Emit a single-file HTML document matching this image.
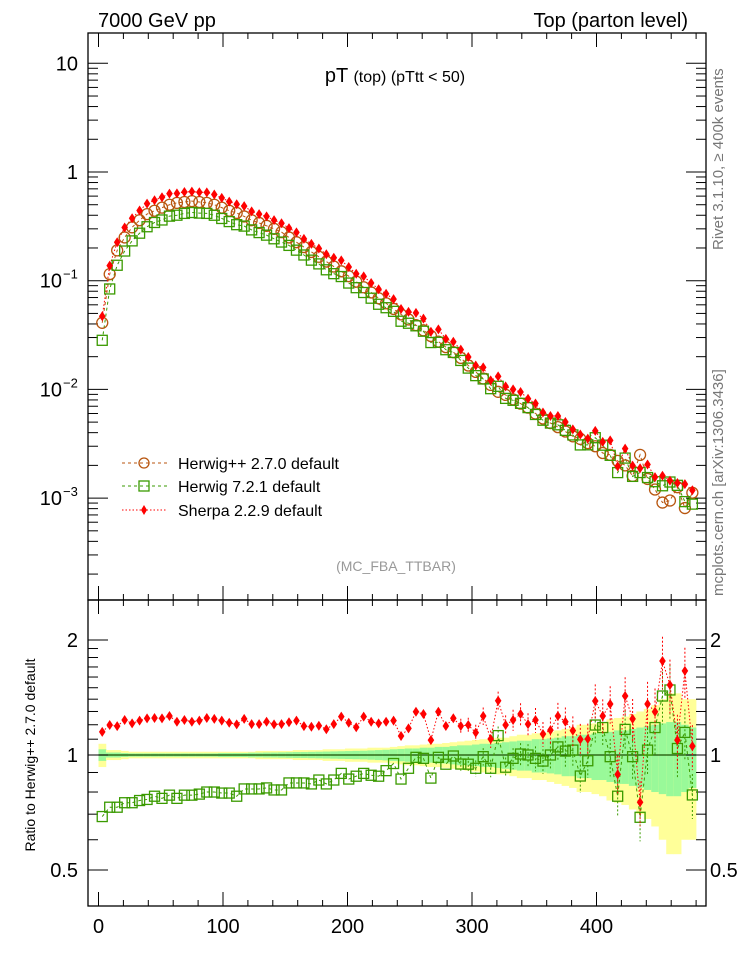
<!DOCTYPE html>
<html><head><meta charset="utf-8">
<style>
html,body{margin:0;padding:0;background:#fff;}
svg{display:block;font-family:"Liberation Sans",sans-serif;}
</style></head>
<body>
<svg id="chart" width="746" height="972" viewBox="0 0 746 972" xmlns="http://www.w3.org/2000/svg">
<g id="bands"></g>
<g id="axes"></g>
<g id="series"></g>
<text x="98" y="27" font-size="20">7000 GeV pp</text>
<text x="688" y="27" font-size="20" text-anchor="end">Top (parton level)</text>
<text x="395" y="82" text-anchor="middle"><tspan font-size="20">pT </tspan><tspan font-size="16">(top) (pTtt &lt; 50)</tspan></text>
<text x="396" y="571" text-anchor="middle" font-size="14" fill="#999">(MC_FBA_TTBAR)</text>
<text transform="translate(723,250) rotate(-90)" font-size="15" fill="#777">Rivet 3.1.10, ≥ 400k events</text>
<text transform="translate(723,596) rotate(-90)" font-size="15" fill="#777">mcplots.cern.ch [arXiv:1306.3436]</text>
<text transform="translate(35,755) rotate(-90)" font-size="14" text-anchor="middle">Ratio to Herwig++ 2.7.0 default</text>
<g>
<g>
<line x1="122" y1="463" x2="167" y2="463" stroke="#b8560f" stroke-dasharray="3,3"/>
<circle cx="144" cy="463" r="5" fill="none" stroke="#b8560f" stroke-width="1.3"/>
<text x="178" y="469" font-size="16">Herwig++ 2.7.0 default</text></g>
<g>
<line x1="122" y1="486" x2="167" y2="486" stroke="#3a9a00" stroke-dasharray="3,3"/>
<rect x="139" y="481" width="10" height="10" fill="none" stroke="#3a9a00" stroke-width="1.3"/>
<text x="178" y="492" font-size="16">Herwig 7.2.1 default</text></g>
<g>
<line x1="122" y1="510" x2="167" y2="510" stroke="#f00" stroke-dasharray="1.5,2"/>
<path d="M144,505 L147,510 L144,515 L141,510 Z" fill="#f00"/>
<text x="178" y="516" font-size="16">Sherpa 2.2.9 default</text></g>
</g>
</svg>
<script>
const binCenters=[];for(let i=0;i<80;i++)binCenters.push(3+6*i);
const herwigpp=[0.041,0.115,0.19,0.25,0.31,0.36,0.41,0.44,0.47,0.50,0.52,0.53,0.54,0.53,0.52,0.50,0.47,0.44,0.42,0.39,0.36,0.34,0.32,0.30,0.28,0.25,0.226,0.204,0.184,0.166,0.150,0.135,0.122,0.110,0.098,0.087,0.078,0.069,0.062,0.055,0.049,0.044,0.039,0.035,0.031,0.0275,0.0245,0.022,0.0195,0.0166,0.0145,0.0126,0.011,0.0095,0.0089,0.0081,0.0074,0.0068,0.006,0.0054,0.0049,0.0045,0.0041,0.0037,0.0035,0.0032,0.003,0.0026,0.0025,0.0022,0.002,0.0016,0.0025,0.0015,0.0012,0.00091,0.00095,0.00126,0.00081,0.00112];
const ratioHerwig7=[0.69,0.73,0.73,0.75,0.75,0.76,0.765,0.78,0.77,0.785,0.77,0.785,0.785,0.79,0.80,0.80,0.795,0.795,0.78,0.815,0.815,0.815,0.82,0.81,0.81,0.845,0.845,0.845,0.84,0.86,0.84,0.86,0.895,0.865,0.88,0.895,0.885,0.88,0.91,0.95,0.865,0.923,0.986,0.98,0.87,0.986,0.946,0.994,0.947,0.946,0.923,0.99,0.923,1.124,0.929,0.98,1.006,1.0,0.98,0.964,1.0,1.05,1.024,1.03,0.881,0.966,1.198,1.18,0.99,0.78,1.167,0.99,0.687,1.03,1.18,1.427,1.48,1.04,1.146,0.786];
const ratioSherpa=[1.15,1.198,1.19,1.235,1.21,1.23,1.247,1.25,1.247,1.265,1.222,1.235,1.222,1.23,1.25,1.243,1.23,1.215,1.203,1.243,1.205,1.205,1.222,1.203,1.205,1.218,1.23,1.19,1.186,1.193,1.168,1.205,1.26,1.215,1.182,1.26,1.222,1.21,1.222,1.23,1.121,1.174,1.298,1.28,1.094,1.298,1.191,1.248,1.191,1.198,1.144,1.265,1.101,1.387,1.198,1.235,1.28,1.205,1.235,1.135,1.162,1.265,1.222,1.158,1.099,1.101,1.385,1.265,1.36,0.89,1.427,1.243,0.752,1.36,1.298,1.762,1.525,1.094,1.66,1.055];
const errYellow=[0.07,0.03,0.03,0.025,0.02,0.02,0.02,0.02,0.02,0.02,0.02,0.02,0.02,0.02,0.02,0.02,0.02,0.02,0.02,0.02,0.02,0.025,0.025,0.025,0.025,0.025,0.03,0.03,0.03,0.03,0.035,0.035,0.035,0.04,0.04,0.04,0.045,0.045,0.045,0.05,0.055,0.06,0.06,0.065,0.07,0.07,0.075,0.08,0.085,0.09,0.095,0.1,0.1,0.11,0.11,0.12,0.13,0.13,0.14,0.14,0.15,0.16,0.17,0.18,0.2,0.2,0.21,0.22,0.24,0.25,0.26,0.28,0.3,0.32,0.35,0.4,0.45,0.45,0.4,0.4];
const errGreen=[0.035,0.015,0.015,0.012,0.01,0.01,0.01,0.01,0.01,0.01,0.01,0.01,0.01,0.01,0.01,0.01,0.012,0.012,0.012,0.012,0.014,0.014,0.015,0.015,0.016,0.017,0.018,0.018,0.019,0.02,0.021,0.022,0.023,0.024,0.025,0.026,0.028,0.03,0.032,0.035,0.037,0.04,0.04,0.045,0.045,0.05,0.05,0.055,0.06,0.06,0.065,0.07,0.07,0.075,0.08,0.085,0.09,0.09,0.1,0.1,0.105,0.11,0.12,0.12,0.13,0.13,0.14,0.14,0.15,0.16,0.16,0.17,0.18,0.19,0.2,0.21,0.22,0.22,0.2,0.18];
const xTicks=[0,100,200,300,400];
const mainTickLabels=["10","1","10","10","10"];
const mainTickExps=["","","−1","−2","−3"];
const mainTickValues=[10,1,0.1,0.01,0.001];
const ratioTickValues=[2,1,0.5];
const ratioTickLabels=["2","1","0.5"];

const NS="http://www.w3.org/2000/svg";
const L=88,R=706,T=33,MB=600,RB=906;
const X0=98.5,XS=1.245;
const xs=v=>X0+XS*v;
const ys=v=>172-108.7*Math.log10(v);
const yr=v=>755-382*Math.log10(v);
function mk(tag,attrs,parent){const e=document.createElementNS(NS,tag);for(const k in attrs)e.setAttribute(k,attrs[k]);parent.appendChild(e);return e;}
const axes=document.getElementById('axes'),series=document.getElementById('series'),bands=document.getElementById('bands');

for(let i=0;i<binCenters.length;i++){
  const xa=xs(binCenters[i]-3),xb=xs(binCenters[i]+3);
  const ry=mk('rect',{x:xa,y:yr(1+errYellow[i]),width:xb-xa+0.3,height:yr(Math.max(1-errYellow[i],0.3))-yr(1+errYellow[i]),fill:'#ffff99'},bands);
  
  
  const rg=mk('rect',{x:xa,y:yr(1+errGreen[i]),width:xb-xa+0.3,height:yr(1-errGreen[i])-yr(1+errGreen[i]),fill:'#99f999'},bands);
  
  
}
const ref=mk('line',{x1:xs(0),x2:xs(480),y1:yr(1),y2:yr(1),stroke:'#1c4f00','stroke-width':1.3},bands);



const f1=mk('rect',{x:L,y:T,width:R-L,height:MB-T,fill:'none',stroke:'#000','stroke-width':1.3},axes);


const f2=mk('rect',{x:L,y:MB,width:R-L,height:RB-MB,fill:'none',stroke:'#000','stroke-width':1.3},axes);



for(let v=0;v<=480;v+=20){
  const x=xs(v),maj=v%100===0;
  [[T,1],[MB,-1],[MB,1],[RB,-1]].forEach(([y0,d])=>{
    const t=mk('line',{x1:x,x2:x,y1:y0,y2:y0+d*(maj?14:6),stroke:'#000'},axes);
    
    
  });
}
xTicks.forEach(v=>{
  const t=mk('text',{x:xs(v),y:RB+27,'font-size':20,'text-anchor':'middle'},axes);t.textContent=String(v);
  
  
});
for(let e=-4;e<=1;e++){for(let m=1;m<10;m++){
  const v=m*Math.pow(10,e),y=ys(v);if(y<T||y>MB)continue;
  const len=m===1?20:10;
  [[L,1],[R,-1]].forEach(([x0,d])=>{
    const t=mk('line',{x1:x0,x2:x0+d*len,y1:y,y2:y,stroke:'#000'},axes);
    
    
  });
}}
mainTickValues.forEach((v,i)=>{
  const t=mk('text',{x:mainTickExps[i]?62:78,y:ys(v)+7,'font-size':20,'text-anchor':'end'},axes);
  t.textContent=mainTickLabels[i];
  
  
  if(mainTickExps[i]){const s=mk('text',{x:63,y:ys(v)-2,'font-size':13},axes);s.textContent=mainTickExps[i];
    
    }
});
[0.5,0.6,0.7,0.8,0.9,1,1.1,1.2,1.3,1.4,1.5,1.6,1.7,1.8,1.9,2].forEach(v=>{
  const y=yr(v),maj=ratioTickValues.includes(v);
  [[L,1],[R,-1]].forEach(([x0,d])=>{
    const t=mk('line',{x1:x0,x2:x0+d*(maj?20:10),y1:y,y2:y,stroke:'#000'},axes);
    
    
  });
});
ratioTickValues.forEach((v,i)=>{
  const t=mk('text',{x:78,y:yr(v)+7,'font-size':20,'text-anchor':'end'},axes);t.textContent=ratioTickLabels[i];
  
  
  const t2=mk('text',{x:710,y:yr(v)+7,'font-size':20},axes);t2.textContent=ratioTickLabels[i];
  
  
});

const h7=herwigpp.map((v,i)=>v*ratioHerwig7[i]);
const sh=herwigpp.map((v,i)=>v*ratioSherpa[i]);
function poly(vals,yf,color,dash,name){
  const p=mk('polyline',{points:vals.map((v,i)=>xs(binCenters[i])+','+yf(v)).join(' '),fill:'none',stroke:color,'stroke-dasharray':dash,'stroke-width':1},series);
  
  
}
function markers(vals,yf,kind,name,rat){
  vals.forEach((v,i)=>{
    const x=xs(binCenters[i]),y=yf(v);let m;
    if(rat&&i>=48){
      const e=errGreen[i]*0.75*v;
      const b=mk('line',{x1:x,x2:x,y1:yf(v+e),y2:yf(Math.max(v-e,0.3)),stroke:kind==='sq'?'#3a9a00':'#f00','stroke-dasharray':'2,2'},series);
      
      
    }
    if(kind==='circ')m=mk('circle',{cx:x,cy:y,r:5.5,fill:'none',stroke:'#b8560f','stroke-width':1.3},series);
    else if(kind==='sq')m=mk('rect',{x:x-5,y:y-5,width:10,height:10,fill:'none',stroke:'#3a9a00','stroke-width':1.3},series);
    else m=mk('path',{d:`M${x},${y-5} L${x+3.3},${y} L${x},${y+5} L${x-3.3},${y} Z`,fill:'#f00'},series);
    
    
  });
}
poly(herwigpp,ys,'#b8560f','3,3','herwigpp-line');
poly(h7,ys,'#3a9a00','3,3','herwig7-line');
poly(sh,ys,'#f00','1.5,2','sherpa-line');
markers(herwigpp,ys,'circ','herwigpp-point',false);
markers(h7,ys,'sq','herwig7-point',false);
markers(sh,ys,'dia','sherpa-point',false);
poly(ratioHerwig7,yr,'#3a9a00','3,3','herwig7-ratio-line');
poly(ratioSherpa,yr,'#f00','1.5,2','sherpa-ratio-line');
markers(ratioHerwig7,yr,'sq','herwig7-ratio-point',true);
markers(ratioSherpa,yr,'dia','sherpa-ratio-point',true);
</script>
</body></html>
